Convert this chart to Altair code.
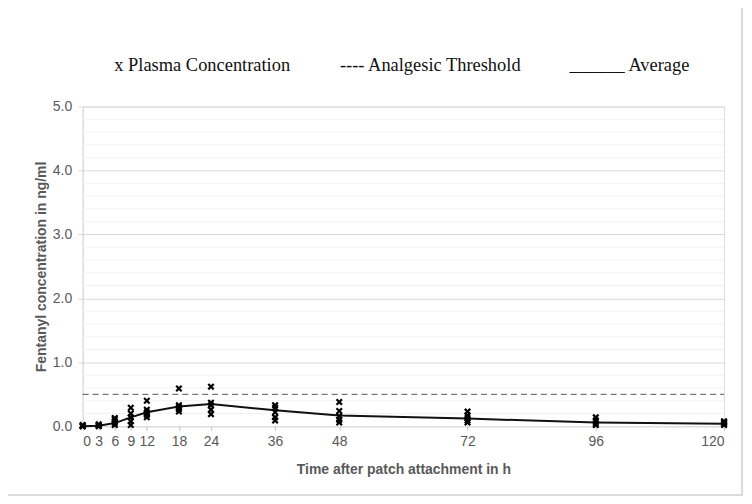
import altair as alt
import pandas as pd

hours = [0, 3, 6, 9, 12, 18, 24, 36, 48, 72, 96, 120]
average = [0.0, 0.01, 0.05, 0.14, 0.22, 0.31, 0.35, 0.25, 0.17, 0.12, 0.06, 0.04]
samples = {
    0: [0.0, 0.01, 0.02, 0.0],
    3: [0.0, 0.01, 0.02, 0.03],
    6: [0.02, 0.05, 0.08, 0.11, 0.13],
    9: [0.02, 0.08, 0.14, 0.20, 0.29],
    12: [0.14, 0.18, 0.22, 0.26, 0.40],
    18: [0.23, 0.27, 0.30, 0.33, 0.59],
    24: [0.19, 0.26, 0.33, 0.37, 0.62],
    36: [0.09, 0.14, 0.22, 0.29, 0.33],
    48: [0.06, 0.10, 0.16, 0.24, 0.38],
    72: [0.06, 0.09, 0.13, 0.17, 0.23],
    96: [0.02, 0.05, 0.09, 0.14],
    120: [0.02, 0.04, 0.06, 0.08],
}
threshold = 0.5
major_ticks = [0, 1, 2, 3, 4, 5]
minor_ticks = [0.2, 0.4, 0.6, 0.8, 1.2, 1.4, 1.6, 1.8, 2.2, 2.4, 2.6, 2.8,
               3.2, 3.4, 3.6, 3.8, 4.2, 4.4, 4.6, 4.8]
legend_texts = ["x Plasma Concentration", "---- Analgesic Threshold", "______ Average"]

avg_df = pd.DataFrame({"t": hours, "c": average})
pts_df = pd.DataFrame([{"t": t, "c": v} for t, vs in samples.items() for v in vs])
thr_df = pd.DataFrame({"t": [0, 120], "c": [threshold, threshold]})
minor_df = pd.DataFrame({"c": minor_ticks})

W, H = 644, 321

xscale = alt.Scale(domain=[0, 120], nice=False)
yscale = alt.Scale(domain=[0, 5], nice=False)

xaxis = alt.Axis(values=hours, title="Time after patch attachment in h", grid=False,
                 domain=False, tickColor="#bfbfbf", tickSize=4, labelColor="#595959",
                 labelFontSize=14, labelFont="Liberation Sans", labelPadding=4,
                 titleColor="#595959", titleFont="Liberation Sans", titleFontSize=14,
                 titleFontWeight="bold", titlePadding=14, labelOverlap=False)
yaxis = alt.Axis(values=major_ticks, format=".1f", title="Fentanyl concentration in ng/ml",
                 gridColor="#d9d9d9", gridWidth=1, labelOverlap=False,
                 tickColor="#d9d9d9", tickSize=5,
                 domainColor="#d9d9d9", labelColor="#595959", labelFontSize=14,
                 labelFont="Liberation Sans", labelPadding=6,
                 titleColor="#595959", titleFont="Liberation Sans", titleFontSize=14,
                 titleFontWeight="bold", titlePadding=4)

frame = alt.Chart(pd.DataFrame({"a": [0]})).mark_rect(
    fill=None, stroke="#d0d0d0", strokeWidth=1.5
).encode(x=alt.value(-78), x2=alt.value(W + 18), y=alt.value(-101), y2=alt.value(H + 69))

minor = alt.Chart(minor_df).mark_rule(color="#f2f2f2", strokeWidth=1).encode(
    y=alt.Y("c:Q", scale=yscale, axis=yaxis), x=alt.value(0), x2=alt.value(W)
)

thr = alt.Chart(thr_df).mark_line(color="#555555", strokeDash=[6, 4], strokeWidth=1).encode(
    x=alt.X("t:Q", scale=xscale, axis=xaxis),
    y=alt.Y("c:Q", scale=yscale),
)
avg = alt.Chart(avg_df).mark_line(color="#111111", strokeWidth=2).encode(
    x=alt.X("t:Q", scale=xscale), y=alt.Y("c:Q", scale=yscale)
)
pts = alt.Chart(pts_df).mark_point(shape="M-1,-1L1,1M-1,1L1,-1", color="#000000", size=30,
                                   strokeWidth=2.2, opacity=1, filled=False).encode(
    x=alt.X("t:Q", scale=xscale), y=alt.Y("c:Q", scale=yscale)
)

legend_x = [203, 432, 632]
legend_layers = [
    alt.Chart(pd.DataFrame({"label": [txt]})).mark_text(
        font="Liberation Serif", fontSize=18.5, color="#111111", align="center", baseline="middle"
    ).encode(x=alt.value(px - 83), y=alt.value(-42), text="label:N")
    for txt, px in zip(legend_texts, legend_x)
]

chart = alt.layer(frame, minor, thr, avg, pts, *legend_layers).properties(
    width=W, height=H,
    autosize=alt.AutoSizeParams(type="none"),
    padding={"left": 75, "top": 98, "right": 20, "bottom": 70},
).configure_view(stroke=None).configure(background="white")

chart.save("out.html", embed_options={"renderer": "svg", "actions": False})
